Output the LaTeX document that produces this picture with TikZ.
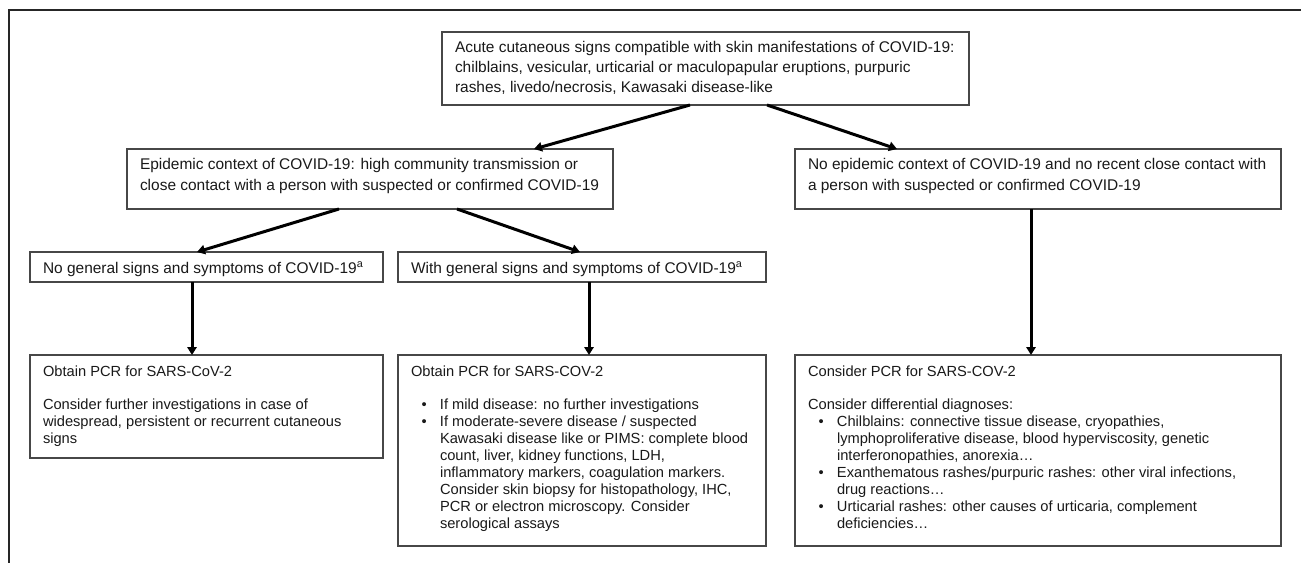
\documentclass[tikz,border=0pt]{standalone}
\usepackage{fontspec}
\setmainfont{Liberation Sans}
\usetikzlibrary{arrows.meta,calc}
\newcommand{\upf}{\fontsize{11.6pt}{15pt}\selectfont}
\newcommand{\lof}{\fontsize{11pt}{12.75pt}\selectfont}
\newcommand{\fb}{\rule{0pt}{15.75pt}}
\newcommand{\bx}[3]{\begin{minipage}[t][\dimexpr #2pt*3/4\relax][t]{\dimexpr #1pt*3/4-19.5pt\relax}\parindent=0pt\rightskip=0pt plus 1fil minus 40pt\relax #3\end{minipage}}
\newcommand{\bitem}[1]{\par\hangindent=21.75pt\hangafter=1\noindent\hbox to 21.75pt{\hspace{8pt}\textbullet\hfil}#1}
\tikzset{
  flowbox/.style={draw=black!72, line width=1.1pt, inner xsep=9.75pt, inner ysep=0pt, outer sep=0pt, anchor=north west, text=black!90},
  arr/.style={draw=black, line width=2.25pt, -{Triangle[length=6pt,width=7pt]}},
  frame/.style={draw=black!85, line width=1.5pt}
}
\begin{document}
\begin{tikzpicture}[x=0.75pt,y=-0.75pt]
\useasboundingbox (0,0) rectangle (1301,563);
\draw[frame] (1301,10) -- (9,10) -- (9,563);

\node[flowbox, font=\upf] (top) at (442,32) {\bx{527}{73}{\fb Acute cutaneous signs compatible with skin manifestations of COVID-19:\\ chilblains, vesicular, urticarial or maculopapular eruptions, purpuric\\ rashes, livedo/necrosis, Kawasaki disease-like}};

\node[flowbox, font=\upf] (epi) at (127,149) {\bx{486}{60}{\fb Epidemic context of COVID-19: high community transmission or\\ close contact with a person with suspected or confirmed COVID-19}};

\node[flowbox, font=\upf] (noepi) at (795,149) {\bx{486}{60}{\fb No epidemic context of COVID-19 and no recent close contact with\\ a person with suspected or confirmed COVID-19}};

\node[flowbox, font=\upf] (nogen) at (30,252) {\bx{353}{30}{\fb No general signs and symptoms of COVID-19\textsuperscript{a}}};

\node[flowbox, font=\upf] (withgen) at (398,252) {\bx{368}{30}{\fb With general signs and symptoms of COVID-19\textsuperscript{a}}};

\node[flowbox, font=\lof] (llow) at (30,355) {\bx{353}{103}{\fb Obtain PCR for SARS-CoV-2\\[12pt]
Consider further investigations in case of\\ widespread, persistent or recurrent cutaneous\\ signs}};

\node[flowbox, font=\lof] (mlow) at (398,355) {\bx{368}{191}{\fb Obtain PCR for SARS-COV-2\par\vspace{12pt}%
\bitem{If mild disease: no further investigations}%
\bitem{If moderate-severe disease / suspected\\ Kawasaki disease like or PIMS: complete blood\\ count, liver, kidney functions, LDH,\\ inflammatory markers, coagulation markers.\\ Consider skin biopsy for histopathology, IHC,\\ PCR or electron microscopy. Consider\\ serological assays}}};

\node[flowbox, font=\lof] (rlow) at (795,355) {\bx{486}{191}{\fb Consider PCR for SARS-COV-2\par\vspace{12pt}%
Consider differential diagnoses:%
\bitem{Chilblains: connective tissue disease, cryopathies,\\ lymphoproliferative disease, blood hyperviscosity, genetic\\ interferonopathies, anorexia…}%
\bitem{Exanthematous rashes/purpuric rashes: other viral infections,\\ drug reactions…}%
\bitem{Urticarial rashes: other causes of urticaria, complement\\ deficiencies…}}};

\draw[arr] ($(top.south west)+(248,0)$) -- ($(epi.north west)+(407,0)$);
\draw[arr] ($(top.south west)+(325,0)$) -- ($(noepi.north west)+(102,0)$);
\draw[arr] ($(epi.south west)+(212,0)$) -- ($(nogen.north west)+(167,0)$);
\draw[arr] ($(epi.south west)+(330,0)$) -- ($(withgen.north west)+(182,0)$);
\draw[arr] ($(noepi.south west)+(236,0)$) -- ($(rlow.north west)+(236,0)$);
\draw[arr] ($(nogen.south west)+(162,0)$) -- ($(llow.north west)+(162,0)$);
\draw[arr] ($(withgen.south west)+(191,0)$) -- ($(mlow.north west)+(191,0)$);
\end{tikzpicture}
\end{document}
